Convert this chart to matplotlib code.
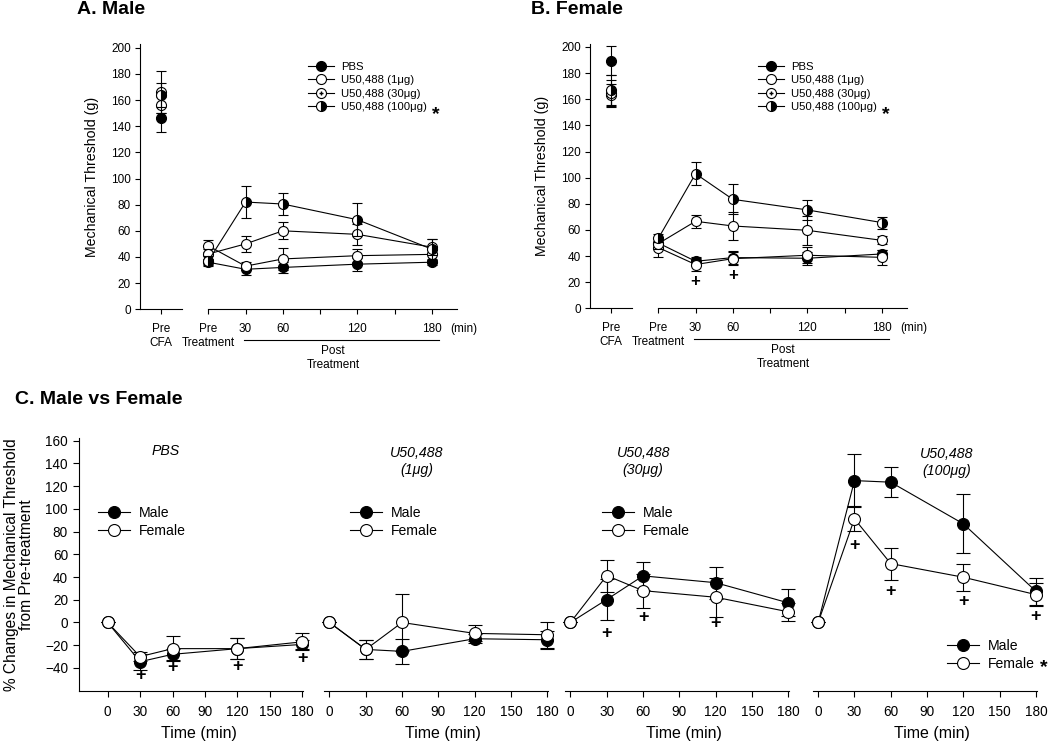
import matplotlib
matplotlib.use('Agg')
import matplotlib.pyplot as plt
from matplotlib.lines import Line2D
from matplotlib.transforms import blended_transform_factory as btf

plt.rcParams['font.family'] = ['Liberation Sans', 'DejaVu Sans']

# ---------------- data ----------------
groups = ['PBS', 'U50,488 (1\u03bcg)', 'U50,488 (30\u03bcg)', 'U50,488 (100\u03bcg)']
times = [0, 30, 60, 120, 180]
xtick_pos_ab = [0, 30, 60, 90, 120, 150, 180]
xtick_lab_ab = ['Pre', '30', '60', '', '120', '', '180']

# Panel A (male) - mechanical threshold (g)
male_precfa = [146, 156, 166, 164]
male_precfa_err = [10.5, 6, 16, 9]
male_pbs = [36, 30.6, 32, 34.5, 36]
male_pbs_err = [2.5, 4, 4, 5, 2.5]
male_u1 = [48.5, 33, 38.5, 41, 42]
male_u1_err = [4.5, 3, 8.5, 5, 4]
male_u30 = [42.3, 50, 60, 57.3, 47.5]
male_u30_err = [4, 6, 6.5, 8, 6]
male_u100 = [37, 82, 80.5, 68.5, 46]
male_u100_err = [4, 12.3, 8.6, 12.8, 8]

# Panel B (female)
female_precfa = [189.5, 163, 165, 167]
female_precfa_err = [11.3, 9, 10, 11.6]
female_pbs = [50, 36, 38.8, 38.3, 41.6]
female_pbs_err = [4, 3, 5, 5, 3]
female_u1 = [46.5, 33.5, 38, 40.6, 39]
female_u1_err = [7.5, 5, 5, 6, 6]
female_u30 = [49.5, 66.6, 63, 59.7, 52]
female_u30_err = [4, 5, 11, 11, 3]
female_u100 = [53.5, 103, 83.4, 75.3, 65.6]
female_u100_err = [3, 9, 11.5, 7.4, 4.6]
female_plus_x = [30, 60]
female_plus_y = [20.4, 25]

# Panel C (% change from pre-treatment)
c_titles = ['PBS', 'U50,488\n(1\u03bcg)', 'U50,488\n(30\u03bcg)', 'U50,488\n(100\u03bcg)']
c_male = [[0, -34.5, -28, -23, -19.3],
          [0, -23.7, -25.4, -14.3, -15.2],
          [0, 20.2, 41, 35, 17.3],
          [0, 124.8, 123.4, 86.8, 27.5]]
c_male_err = [[0, 7, 5, 9, 4],
              [0, 8, 11, 4, 8],
              [0, 18, 12, 14, 12],
              [0, 23, 13, 26, 12]]
c_female = [[0, -30, -23, -23, -17],
            [0, -23.7, 0, -9.6, -10.8],
            [0, 41.2, 28, 22.2, 9.4],
            [0, 91.2, 51.8, 39.8, 24.5]]
c_female_err = [[0, 4, 11, 9, 7.5],
                [0, 8, 25, 7, 11.5],
                [0, 14, 15, 17, 8],
                [0, 11, 14, 12, 10]]
c_plus_x = [[30, 60, 120, 180], [], [30, 60, 120], [30, 60, 120, 180]]
c_plus_y = [[-46.5, -39.8, -38.9, -31.9], [], [-9.6, 4.7, -1.2], [67.8, 27.2, 18.7, 5.5]]
c_xticks = [0, 30, 60, 90, 120, 150, 180]
c_yticks = list(range(-40, 161, 20))

# ---------------- figure ----------------
W, H = 1050, 745
fig = plt.figure(figsize=(W / 100, H / 100), dpi=100)


def add_ax(l, t, r, b):
    return fig.add_axes([l / W, 1 - b / H, (r - l) / W, (b - t) / H])


LW = 0.8
MS_AB = 7.2
MS_C = 8.6

styles = [
    dict(marker='o', mfc='black', mec='black'),
    dict(marker='o', mfc='white', mec='black'),
    dict(marker='o', mfc='white', mec='black'),
    dict(marker='o', mfc='black', mec='black', fillstyle='right', mfcalt='white'),
]


def style_kw(i, ms):
    s = dict(styles[i])
    kw = dict(marker=s['marker'], markerfacecolor=s['mfc'], markeredgecolor=s['mec'],
              markersize=ms, markeredgewidth=LW)
    if 'fillstyle' in s:
        kw['fillstyle'] = s['fillstyle']
        kw['markerfacecoloralt'] = s['mfcalt']
    return kw


def draw_ab(x0, top, bottom, title, title_x, precfa, precfa_err, series, series_err,
            plus_x, plus_y, star_x):
    ytop = 202.6
    axL = add_ax(x0, top, x0 + 42, bottom)
    axR = add_ax(x0 + 68.3, top, x0 + 316.7, bottom)
    for ax in (axL, axR):
        ax.set_ylim(0, ytop)
        for sp in ax.spines.values():
            sp.set_linewidth(LW)
        ax.spines['top'].set_visible(False)
        ax.spines['right'].set_visible(False)
        ax.patch.set_alpha(0)
        ax.tick_params(direction='out', length=3.5, width=LW, labelsize=8.5, colors='black')
        ax.tick_params(axis='x', pad=6.2)
    axR.spines['left'].set_visible(False)
    axR.set_yticks([])
    axL.set_xlim(-1, 1)
    axL.set_xticks([0])
    axL.set_xticklabels(['Pre'])
    axL.set_yticks(range(0, 201, 20))
    axL.tick_params(axis='y', pad=3)
    axL.set_ylabel('Mechanical Threshold (g)', fontsize=10.2)
    axL.yaxis.label.set_verticalalignment('center')
    axL.yaxis.set_label_coords(-1.15, 0.5)
    axR.set_xlim(0, 200)
    axR.set_xticks(xtick_pos_ab)
    axR.set_xticklabels(xtick_lab_ab)

    # Pre CFA points
    for i in range(4):
        axL.errorbar([0], [precfa[i]], yerr=[precfa_err[i]], color='black', lw=LW,
                     capsize=3.6, capthick=LW, elinewidth=LW, clip_on=False, zorder=3 + i,
                     linestyle='none', **style_kw(i, MS_AB))
        if i == 2:
            axL.plot([0], [precfa[i]], '+', color='black', ms=3.5, mew=1, zorder=3 + i, clip_on=False)
    # time-course
    for i in range(4):
        axR.errorbar(times, series[i], yerr=series_err[i], color='black', lw=LW,
                     capsize=3.6, capthick=LW, elinewidth=LW, clip_on=False, zorder=3 + i,
                     **style_kw(i, MS_AB))
        if i == 2:
            axR.plot(times, series[i], '+', color='black', ms=3.5, mew=1, zorder=3 + i, clip_on=False)
    for px, py in zip(plus_x, plus_y):
        axR.text(px, py, '+', ha='center', va='center', fontsize=12, fontweight='bold')

    # secondary x labels
    tL = btf(axL.transData, axL.transAxes)
    tR = btf(axR.transData, axR.transAxes)
    axL.text(0, -0.128, 'CFA', transform=tL, ha='center', va='center', fontsize=8.5)
    axR.text(0, -0.128, 'Treatment', transform=tR, ha='center', va='center', fontsize=8.5)
    axR.text(206, -0.074, '(min)', transform=tR, ha='center', va='center', fontsize=8.5)
    axR.plot([28.7, 185.7], [-0.1166, -0.1166], transform=tR, color='black', lw=LW, clip_on=False)
    axR.text(100.5, -0.159, 'Post', transform=tR, ha='center', va='center', fontsize=8.5)
    axR.text(101, -0.212, 'Treatment', transform=tR, ha='center', va='center', fontsize=8.5)

    # legend
    handles = []
    for i in range(4):
        h = Line2D([], [], color='black', lw=LW, **style_kw(i, MS_AB))
        if i == 2:
            h = (h, Line2D([], [], color='black', marker='+', ms=3.5, mew=1, linestyle='none'))
        handles.append(h)
    axR.legend(handles, groups, loc='center left',
               bbox_to_anchor=((x0 + 167.7) / W, 1 - 87 / H), bbox_transform=fig.transFigure,
               frameon=False, fontsize=8.2, handlelength=2.3, handletextpad=0.6,
               labelspacing=0.28, borderpad=0, borderaxespad=0)
    fig.text(star_x / W, 1 - 115 / H, '*', ha='center', va='center', fontsize=14, fontweight='bold')
    fig.text(title_x / W, 1 - 9 / H, title, ha='left', va='center', fontsize=14, fontweight='bold')


draw_ab(140, 44.3, 309.3, 'A. Male', 77, male_precfa, male_precfa_err,
        [male_pbs, male_u1, male_u30, male_u100],
        [male_pbs_err, male_u1_err, male_u30_err, male_u100_err], [], [], 436)
draw_ab(590, 43.6, 308.3, 'B. Female', 531, female_precfa, female_precfa_err,
        [female_pbs, female_u1, female_u30, female_u100],
        [female_pbs_err, female_u1_err, female_u30_err, female_u100_err],
        female_plus_x, female_plus_y, 886)

# ---------------- Panel C ----------------
fig.text(15 / W, 1 - 400 / H, 'C. Male vs Female', ha='left', va='center', fontsize=14, fontweight='bold')
c_lefts = [79, 324, 565, 812.7]
c_xlims = [(-26.5, 181), (-4.5, 181), (-4.5, 181), (-4.5, 181)]
c_title_pos = [(53.7, 150.7), (72.1, 141.5), (60.2, 141.5), (106.3, 141)]
c_label_x = [84.5, 94, 94, 94]
c_leg_anchor = [(97.7, 522.2), (349.5, 522.2), (601.5, 522.2), (946.5, 654.7)]
ctop, cbot = 438.3, 690.7
for k in range(4):
    ax = add_ax(c_lefts[k], ctop, c_lefts[k] + 224.4, cbot)
    ax.patch.set_alpha(0)
    ax.set_xlim(*c_xlims[k])
    ax.set_ylim(-60, 162)
    for sp in ax.spines.values():
        sp.set_linewidth(LW)
    ax.spines['top'].set_visible(False)
    ax.spines['right'].set_visible(False)
    ax.tick_params(direction='out', length=4, width=LW, labelsize=9.8, colors='black')
    ax.tick_params(axis='x', pad=6)
    ax.set_xticks(c_xticks)
    if k == 0:
        ax.set_yticks(c_yticks)
        ax.tick_params(axis='y', pad=4)
        ax.set_ylabel('% Changes in Mechanical Threshold\nfrom Pre-treatment', fontsize=11.2,
                      linespacing=1.0)
        ax.yaxis.label.set_verticalalignment('center')
        ax.yaxis.set_label_coords(-0.268, 0.5)
    else:
        ax.spines['left'].set_visible(False)
        ax.set_yticks([])
    tr = btf(ax.transData, ax.transAxes)
    ax.text(c_label_x[k], -0.168, 'Time (min)', transform=tr, ha='center', va='center', fontsize=11.5)
    ax.text(c_title_pos[k][0], c_title_pos[k][1], c_titles[k], ha='center', va='center',
            fontsize=10.2, style='italic', linespacing=1.3)
    ax.errorbar(times, c_male[k], yerr=c_male_err[k], color='black', lw=LW, capsize=4.8,
                capthick=LW, elinewidth=LW, clip_on=False, zorder=3, **style_kw(0, MS_C))
    ax.errorbar(times, c_female[k], yerr=c_female_err[k], color='black', lw=LW, capsize=4.8,
                capthick=LW, elinewidth=LW, clip_on=False, zorder=4, **style_kw(1, MS_C))
    for px, py in zip(c_plus_x[k], c_plus_y[k]):
        ax.text(px, py, '+', ha='center', va='center', fontsize=13, fontweight='bold')
    hm = Line2D([], [], color='black', lw=LW, **style_kw(0, MS_C))
    hf = Line2D([], [], color='black', lw=LW, **style_kw(1, MS_C))
    ax.legend([hm, hf], ['Male', 'Female'], loc='center left',
              bbox_to_anchor=(c_leg_anchor[k][0] / W, 1 - c_leg_anchor[k][1] / H),
              bbox_transform=fig.transFigure, frameon=False, fontsize=10.1,
              handlelength=2.3, handletextpad=0.65, labelspacing=0.3, borderpad=0,
              borderaxespad=0)
fig.text(1044 / W, 1 - 668 / H, '*', ha='center', va='center', fontsize=14, fontweight='bold')

fig.savefig('out.png', dpi=100)
